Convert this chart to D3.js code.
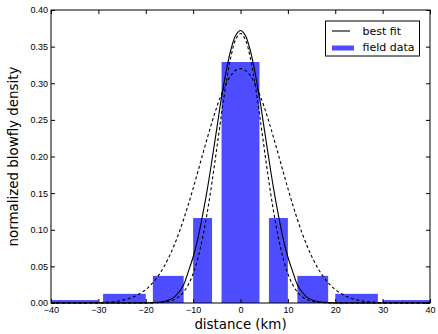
<!DOCTYPE html>
<html>
<head>
<meta charset="utf-8">
<script src="https://cdnjs.cloudflare.com/ajax/libs/d3/7.8.5/d3.min.js"></script>
<style>
  body { margin: 0; background: #fff; }
  svg { font-family: "DejaVu Sans", sans-serif; }
  .tick text { fill: #000; }
</style>
</head>
<body>
<svg width="438" height="334"></svg>
<script>
// histogram bins (km) and normalized heights
const binLeft  = [-40, -29, -18.5, -10, -4, 6, 12, 20, 30];
const binRight = [-30, -20, -12, -6, 4, 10, 18.5, 29, 40];
const binValue = [0.004, 0.0125, 0.037, 0.116, 0.329, 0.116, 0.037, 0.0125, 0.004];

// sample points
const curveX = [-40, -35, -30, -28, -26, -24, -22,
  -20, -19, -18, -17, -16, -15, -14, -13, -12, -11, -10, -9, -8, -7, -6, -5, -4, -3, -2, -1,
  0, 1, 2, 3, 4, 5, 6, 7, 8, 9, 10, 11, 12, 13, 14, 15, 16, 17, 18, 19, 20,
  22, 24, 26, 28, 30, 35, 40];

const bestFit = [0, 0, 0, 0, 0, 0, 0.0001,
  0.0002, 0.0004, 0.0008, 0.0014, 0.0025, 0.0045, 0.0080, 0.0150, 0.0250, 0.0432, 0.0628, 0.0880, 0.1200, 0.1555, 0.1960, 0.2384, 0.2810, 0.3170, 0.3464, 0.3655,
  0.3720, 0.3655, 0.3464, 0.3170, 0.2810, 0.2384, 0.1960, 0.1555, 0.1200, 0.0880, 0.0628, 0.0432, 0.0250, 0.0150, 0.0080, 0.0045, 0.0025, 0.0014, 0.0008, 0.0004, 0.0002,
  0.0001, 0, 0, 0, 0, 0, 0];

const wideFit = [0, 0.0001, 0.0005, 0.0012, 0.0025, 0.0052, 0.0100,
  0.0183, 0.0242, 0.0315, 0.0405, 0.0513, 0.0640, 0.0788, 0.0955, 0.1143, 0.1347, 0.1565, 0.1793, 0.2025, 0.2254, 0.2474, 0.2676, 0.2854, 0.3000, 0.3110, 0.3177,
  0.3200, 0.3177, 0.3110, 0.3000, 0.2854, 0.2676, 0.2474, 0.2254, 0.2025, 0.1793, 0.1565, 0.1347, 0.1143, 0.0955, 0.0788, 0.0640, 0.0513, 0.0405, 0.0315, 0.0242, 0.0183,
  0.0100, 0.0052, 0.0025, 0.0012, 0.0005, 0.0001, 0];

const narrowFit = [0, 0, 0, 0, 0, 0, 0,
  0.0001, 0.0001, 0.0003, 0.0006, 0.0013, 0.0025, 0.0048, 0.0087, 0.0151, 0.0252, 0.0401, 0.0611, 0.0891, 0.1242, 0.1656, 0.2114, 0.2581, 0.3014, 0.3368, 0.3600,
  0.3680, 0.3600, 0.3368, 0.3014, 0.2581, 0.2114, 0.1656, 0.1242, 0.0891, 0.0611, 0.0401, 0.0252, 0.0151, 0.0087, 0.0048, 0.0025, 0.0013, 0.0006, 0.0003, 0.0001, 0.0001,
  0, 0, 0, 0, 0, 0, 0];

const xTicks = [-40, -30, -20, -10, 0, 10, 20, 30, 40];
const yTicks = [0, 0.05, 0.10, 0.15, 0.20, 0.25, 0.30, 0.35, 0.40];

const svg = d3.select('svg');
const L = 51, R = 430, T = 10, B = 303;

const x = d3.scaleLinear().domain([-40, 40]).range([L, R]);
const y = d3.scaleLinear().domain([0, 0.4]).range([B, T]);

// bars
svg.append('g')
  .selectAll('rect')
  .data(binValue)
  .enter()
  .append('rect')
  .attr('x', (d, i) => x(binLeft[i]))
  .attr('width', (d, i) => x(binRight[i]) - x(binLeft[i]))
  .attr('y', d => y(d))
  .attr('height', d => y(0) - y(d))
  .attr('fill', '#4d4dff');

// curves
const line = vals => d3.line()
  .x((d, i) => x(curveX[i]))
  .y(d => y(d))
  .curve(d3.curveCatmullRom)(vals);

svg.append('path').attr('d', line(wideFit))
  .attr('fill', 'none').attr('stroke', '#000').attr('stroke-width', 1.1).attr('stroke-dasharray', '3,2.5');
svg.append('path').attr('d', line(narrowFit))
  .attr('fill', 'none').attr('stroke', '#000').attr('stroke-width', 1.1).attr('stroke-dasharray', '3,2.5');
svg.append('path').attr('d', line(bestFit))
  .attr('fill', 'none').attr('stroke', '#000').attr('stroke-width', 1.1);

// axes, ticks pointing inward
const fmtX = d => d3.format('d')(d).replace('-', '\u2212');

svg.append('g').attr('transform', `translate(0,${B})`)
  .call(d3.axisBottom(x).tickValues(xTicks).tickFormat(fmtX).tickSize(-4).tickPadding(4))
  .call(g => g.select('.domain').remove())
  .call(g => g.selectAll('text').attr('font-size', 9));

svg.append('g').attr('transform', `translate(0,${T})`)
  .call(d3.axisTop(x).tickValues(xTicks).tickFormat('').tickSize(-4))
  .call(g => g.select('.domain').remove());

svg.append('g').attr('transform', `translate(${L},0)`)
  .call(d3.axisLeft(y).tickValues(yTicks).tickFormat(d3.format('.2f')).tickSize(-4).tickPadding(3))
  .call(g => g.select('.domain').remove())
  .call(g => g.selectAll('text').attr('font-size', 9));

svg.append('g').attr('transform', `translate(${R},0)`)
  .call(d3.axisRight(y).tickValues(yTicks).tickFormat('').tickSize(-4))
  .call(g => g.select('.domain').remove());

// frame
svg.append('rect')
  .attr('x', L).attr('y', T)
  .attr('width', R - L).attr('height', B - T)
  .attr('fill', 'none').attr('stroke', '#000').attr('stroke-width', 1);

// axis labels
svg.append('text')
  .attr('x', (L + R) / 2).attr('y', 329)
  .attr('text-anchor', 'middle').attr('font-size', 13.4)
  .text('distance (km)');

svg.append('text')
  .attr('transform', `translate(18,${(T + B) / 2}) rotate(-90)`)
  .attr('text-anchor', 'middle').attr('font-size', 13.4)
  .text('normalized blowfly density');

// legend
const lg = svg.append('g');
lg.append('rect')
  .attr('x', 325.5).attr('y', 21).attr('width', 94).attr('height', 35)
  .attr('fill', '#fff').attr('stroke', '#000').attr('stroke-width', 1);
lg.append('line')
  .attr('x1', 332).attr('x2', 350).attr('y1', 31).attr('y2', 31)
  .attr('stroke', '#000').attr('stroke-width', 1.1);
lg.append('rect')
  .attr('x', 332).attr('y', 45.5).attr('width', 22).attr('height', 5)
  .attr('fill', '#4d4dff');
lg.append('text').attr('x', 362.5).attr('y', 35).attr('font-size', 11).text('best fit');
lg.append('text').attr('x', 362.5).attr('y', 51).attr('font-size', 11).text('field data');
</script>
</body>
</html>
